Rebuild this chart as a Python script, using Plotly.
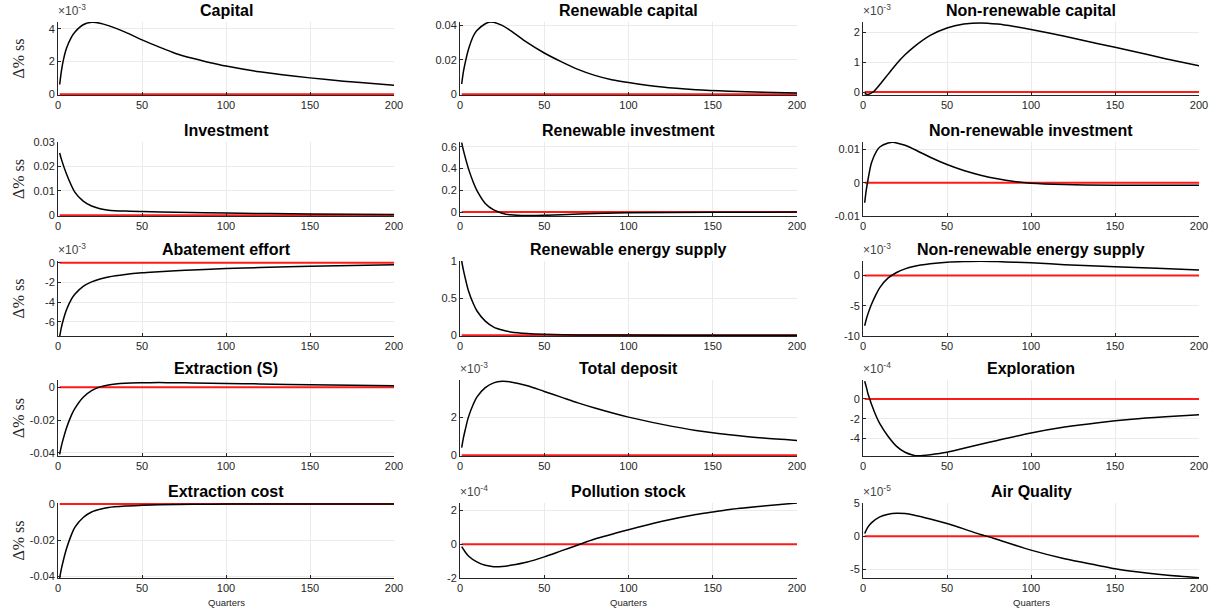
import plotly.graph_objects as go

# ---------------- data (scaled by 10^exp) ----------------
capital_t = [1, 2, 3, 5, 8, 10, 15, 20, 25, 30, 40, 50, 60, 70, 80, 90, 100, 120, 140, 160, 180, 200]
capital_v = [0.6, 1.4, 2.0, 2.8, 3.5, 3.8, 4.25, 4.4, 4.35, 4.2, 3.8, 3.33, 2.9, 2.5, 2.2, 1.95, 1.73, 1.38, 1.12, 0.9, 0.72, 0.56]

rencap_t = [1, 2, 3, 5, 8, 10, 15, 18, 20, 25, 30, 40, 50, 60, 70, 80, 90, 100, 120, 140, 160, 180, 200]
rencap_v = [0.006, 0.013, 0.018, 0.026, 0.034, 0.037, 0.041, 0.042, 0.0418, 0.040, 0.037, 0.030, 0.024, 0.019, 0.0145, 0.011, 0.0085, 0.0068, 0.0042, 0.0027, 0.0018, 0.0012, 0.0008]

nrcap_t = [1, 3, 6, 10, 15, 20, 25, 30, 40, 50, 60, 70, 80, 90, 100, 120, 140, 160, 180, 200]
nrcap_v = [-0.05, -0.08, 0.0, 0.25, 0.6, 0.95, 1.25, 1.5, 1.9, 2.15, 2.28, 2.32, 2.28, 2.2, 2.1, 1.87, 1.62, 1.38, 1.12, 0.88]

inv_t = [1, 2, 5, 10, 15, 20, 25, 30, 40, 50, 70, 100, 150, 200]
inv_v = [0.0255, 0.023, 0.017, 0.0095, 0.0058, 0.0038, 0.0027, 0.0021, 0.0017, 0.0015, 0.0012, 0.0009, 0.0005, 0.0003]

reninv_t = [1, 2, 3, 5, 8, 10, 15, 20, 25, 30, 40, 50, 60, 80, 100, 150, 200]
reninv_v = [0.64, 0.57, 0.51, 0.40, 0.27, 0.20, 0.08, 0.02, -0.01, -0.025, -0.032, -0.03, -0.024, -0.014, -0.007, -0.002, 0.0]

nrinv_t = [1, 2, 3, 5, 8, 10, 15, 18, 20, 25, 30, 40, 50, 60, 70, 80, 90, 100, 120, 150, 200]
nrinv_v = [-0.006, -0.002, 0.001, 0.006, 0.0095, 0.0108, 0.012, 0.0122, 0.012, 0.0113, 0.0102, 0.0077, 0.0055, 0.0037, 0.0023, 0.0012, 0.0004, -0.0001, -0.0005, -0.0007, -0.0007]

abate_t = [1, 2, 3, 5, 8, 10, 15, 20, 25, 30, 40, 50, 60, 70, 80, 100, 120, 150, 200]
abate_v = [-7.5, -6.6, -5.9, -4.8, -3.7, -3.2, -2.4, -1.95, -1.65, -1.45, -1.2, -1.03, -0.92, -0.82, -0.74, -0.6, -0.5, -0.37, -0.2]

rensup_t = [1, 2, 3, 5, 8, 10, 15, 20, 25, 30, 40, 50, 70, 100, 150, 200]
rensup_v = [1.0, 0.88, 0.78, 0.6, 0.42, 0.33, 0.19, 0.11, 0.07, 0.045, 0.022, 0.012, 0.005, 0.002, 0.0005, 0.0]

nrsup_t = [1, 2, 3, 5, 8, 10, 15, 20, 25, 30, 40, 50, 60, 70, 80, 90, 100, 120, 150, 175, 200]
nrsup_v = [-8.3, -7.2, -6.3, -4.8, -3.0, -2.0, -0.4, 0.5, 1.1, 1.5, 1.95, 2.2, 2.3, 2.35, 2.3, 2.2, 2.1, 1.8, 1.45, 1.2, 0.9]

extr_t = [1, 2, 3, 5, 8, 10, 15, 20, 25, 30, 40, 50, 60, 70, 80, 100, 120, 150, 200]
extr_v = [-0.041, -0.036, -0.032, -0.025, -0.017, -0.013, -0.006, -0.002, 0.0003, 0.0015, 0.0025, 0.0028, 0.0029, 0.0028, 0.0027, 0.0024, 0.0021, 0.0016, 0.001]

dep_t = [1, 2, 3, 5, 8, 10, 15, 20, 25, 30, 40, 50, 60, 70, 80, 100, 120, 140, 160, 180, 200]
dep_v = [0.4, 0.9, 1.3, 2.0, 2.7, 3.05, 3.55, 3.8, 3.88, 3.85, 3.65, 3.35, 3.05, 2.75, 2.48, 2.0, 1.62, 1.3, 1.08, 0.9, 0.78]

expl_t = [1, 2, 3, 4, 5, 8, 10, 15, 20, 25, 30, 33, 40, 50, 60, 70, 80, 100, 120, 140, 160, 180, 200]
expl_v = [1.8, 1.2, 0.5, 0.0, -0.5, -1.8, -2.5, -3.8, -4.8, -5.4, -5.7, -5.76, -5.65, -5.4, -5.0, -4.6, -4.2, -3.45, -2.85, -2.4, -2.05, -1.8, -1.6]

ecost_t = [1, 2, 3, 5, 8, 10, 15, 20, 25, 30, 40, 50, 60, 80, 100, 150, 200]
ecost_v = [-0.041, -0.036, -0.032, -0.025, -0.017, -0.013, -0.0075, -0.0045, -0.003, -0.002, -0.0012, -0.0008, -0.0005, -0.0002, -0.0001, 0.0, 0.0]

poll_t = [1, 3, 5, 10, 15, 20, 25, 30, 40, 50, 60, 70, 80, 100, 120, 140, 150, 160, 180, 200]
poll_v = [-0.15, -0.45, -0.7, -1.05, -1.25, -1.33, -1.32, -1.25, -1.05, -0.75, -0.4, -0.05, 0.3, 0.85, 1.35, 1.75, 1.9, 2.05, 2.25, 2.43]

air_t = [1, 3, 5, 10, 15, 20, 25, 30, 40, 50, 60, 70, 75, 80, 100, 120, 140, 150, 160, 180, 200]
air_v = [0.4, 1.4, 2.0, 2.9, 3.3, 3.45, 3.4, 3.2, 2.6, 1.9, 1.1, 0.25, -0.1, -0.5, -2.1, -3.4, -4.4, -4.9, -5.3, -5.85, -6.25]

# steady-state reference line
ss_t = [1, 200]
ss_v = [0, 0]

titles = ["Capital", "Renewable capital", "Non-renewable capital",
          "Investment", "Renewable investment", "Non-renewable investment",
          "Abatement effort", "Renewable energy supply", "Non-renewable energy supply",
          "Extraction (S)", "Total deposit", "Exploration",
          "Extraction cost", "Pollution stock", "Air Quality"]
series_t = [capital_t, rencap_t, nrcap_t, inv_t, reninv_t, nrinv_t, abate_t, rensup_t, nrsup_t,
            extr_t, dep_t, expl_t, ecost_t, poll_t, air_t]
series_v = [capital_v, rencap_v, nrcap_v, inv_v, reninv_v, nrinv_v, abate_v, rensup_v, nrsup_v,
            extr_v, dep_v, expl_v, ecost_v, poll_v, air_v]
exponents = [-3, None, -3, None, None, None, -3, None, -3, None, -3, -4, None, -4, -5]
y_ranges = [[-0.04, 4.42], [-0.0004, 0.042], [-0.1, 2.35], [-0.0003, 0.03], [-0.036, 0.645], [-0.01, 0.0123],
            [-7.45, 0.17], [-0.01, 1.0], [-10, 2.4], [-0.042, 0.0045], [-0.04, 3.95], [-5.78, 1.92],
            [-0.041, 0.0005], [-2, 2.43], [-6.3, 5.0]]
y_ticks = [[0, 2, 4], [0, 0.02, 0.04], [0, 1, 2], [0, 0.01, 0.02, 0.03], [0, 0.2, 0.4, 0.6],
           [-0.01, 0, 0.01], [-6, -4, -2, 0], [0, 0.5, 1], [-10, -5, 0], [-0.04, -0.02, 0],
           [0, 2, 4], [-4, -2, 0], [-0.04, -0.02, 0], [-2, 0, 2], [-5, 0, 5]]
y_ticktext = [["0", "2", "4"], ["0", "0.02", "0.04"], ["0", "1", "2"], ["0", "0.01", "0.02", "0.03"],
              ["0", "0.2", "0.4", "0.6"], ["-0.01", "0", "0.01"], ["-6", "-4", "-2", "0"],
              ["0", "0.5", "1"], ["-10", "-5", "0"], ["-0.04", "-0.02", "0"], ["0", "2", "4"],
              ["-4", "-2", "0"], ["-0.04", "-0.02", "0"], ["-2", "0", "2"], ["-5", "0", "5"]]
x_ticks = [0, 50, 100, 150, 200]
y_label = "Δ% ss"
x_label = "Quarters"

# ---------------- layout geometry (screen pixels; body margin removed) ----------------
W, H = 1220, 612
col_px = [(58, 394), (460, 797), (863, 1199)]
row_px = [(22, 95), (142, 216), (261, 336), (380, 456), (503, 578)]


def fx(p):
    return p / W


def fy(p):
    return 1 - p / H


fig = go.Figure()
layout = dict(width=W, height=H, margin=dict(l=0, r=0, t=0, b=0, autoexpand=False),
              paper_bgcolor="white", plot_bgcolor="white", showlegend=False,
              font=dict(family="Liberation Sans, Arial, sans-serif", size=11, color="#262626"))
annotations = []
axcol = "#262626"

for i in range(15):
    r, c = divmod(i, 3)
    x0, x1 = col_px[c]
    top, bot = row_px[r]
    n = i + 1
    xa = "x" if n == 1 else f"x{n}"
    ya = "y" if n == 1 else f"y{n}"
    fig.add_trace(go.Scatter(x=ss_t, y=ss_v, mode="lines", xaxis=xa, yaxis=ya,
                             line=dict(color="#ff1a1a", width=2), hoverinfo="skip"))
    fig.add_trace(go.Scatter(x=series_t[i], y=series_v[i], mode="lines", xaxis=xa, yaxis=ya,
                             line=dict(color="black", width=1.5, shape="spline", smoothing=0.8)))
    layout[f"xaxis{n if n > 1 else ''}"] = dict(
        domain=[fx(x0), fx(x1)], anchor=ya, range=[0, 200], tickvals=x_ticks, automargin=False,
        ticks="inside", ticklen=3, tickcolor=axcol, showline=True, linecolor=axcol, linewidth=1,
        showgrid=True, gridcolor="#ebebeb", gridwidth=1, zeroline=False,
        tickfont=dict(size=11, color=axcol), fixedrange=True)
    layout[f"yaxis{n if n > 1 else ''}"] = dict(
        domain=[fy(bot), fy(top)], anchor=xa, range=y_ranges[i], tickvals=y_ticks[i],
        ticktext=y_ticktext[i], ticks="inside", ticklen=3, tickcolor=axcol, showline=True,
        linecolor=axcol, linewidth=1, showgrid=True, gridcolor="#ebebeb", gridwidth=1,
        zeroline=False, tickfont=dict(size=11, color=axcol), fixedrange=True, automargin=False)
    # title
    annotations.append(dict(text=f"<b>{titles[i]}</b>", x=fx((x0 + x1) / 2), y=fy(top - 1),
                            xref="paper", yref="paper", xanchor="center", yanchor="bottom",
                            showarrow=False, font=dict(size=16, color="black")))
    if exponents[i] is not None:
        annotations.append(dict(text=f"×10<sup>{exponents[i]}</sup>", x=fx(x0 - 2), y=fy(top - 2),
                                xref="paper", yref="paper", xanchor="left", yanchor="bottom",
                                showarrow=False, font=dict(size=12, color="#444444")))
    if c == 0:
        annotations.append(dict(text=y_label, x=fx(18), y=fy((top + bot) / 2),
                                xref="paper", yref="paper", xanchor="center", yanchor="middle",
                                textangle=-90, showarrow=False,
                                font=dict(family="Liberation Serif, Times New Roman, serif", size=16, color=axcol)))
    if r == 4:
        annotations.append(dict(text=x_label, x=fx((x0 + x1) / 2), y=fy(602),
                                xref="paper", yref="paper", xanchor="center", yanchor="middle",
                                showarrow=False, font=dict(size=9.5, color=axcol)))

layout["annotations"] = annotations
fig.update_layout(**layout)
fig.write_html("out.html", config={"displayModeBar": False, "staticPlot": True},
               post_script="document.body.style.margin='0px';document.body.style.overflow='hidden';")
